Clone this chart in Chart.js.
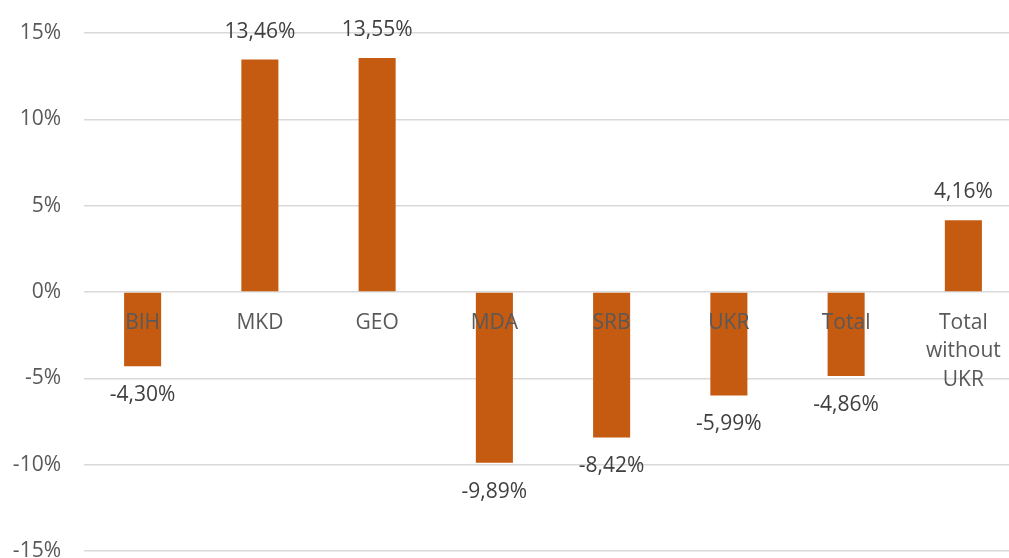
<!DOCTYPE html>
<html>
<head>
<meta charset="utf-8">
<script src="https://cdn.jsdelivr.net/npm/chart.js@4"></script>
<style>
  html, body { margin: 0; padding: 0; background: #fff; overflow: hidden; }
  canvas { display: block; }
</style>
</head>
<body>
<canvas id="growthChart" width="1022" height="575"></canvas>
<script>
// categories and values (percent)
const categories = ['BIH', 'MKD', 'GEO', 'MDA', 'SRB', 'UKR', 'Total', ['Total', 'without', 'UKR']];
const growth = [-4.30, 13.46, 13.55, -9.89, -8.42, -5.99, -4.86, 4.16];
const yTicks = [-15, -10, -5, 0, 5, 10, 15];

const FONT = '"Open Sans", sans-serif';

// category names drawn just under the zero line, on top of the bars
const categoryLabels = {
    id: 'categoryLabels',
    afterDatasetsDraw(chart) {
        const ctx = chart.ctx;
        const x = chart.scales.x;
        const y0 = chart.scales.y.getPixelForValue(0);
        ctx.save();
        ctx.font = '21px ' + FONT;
        ctx.fillStyle = '#595959';
        ctx.textAlign = 'center';
        ctx.textBaseline = 'middle';
        categories.forEach((c, i) => {
            const lines = Array.isArray(c) ? c : [c];
            lines.forEach((line, j) => {
                ctx.fillText(line, x.getPixelForValue(i), y0 + 31 + j * 28.5);
            });
        });
        ctx.restore();
    }
};

// value labels above positive / below negative bars
const valueLabels = {
    id: 'valueLabels',
    afterDatasetsDraw(chart) {
        const ctx = chart.ctx;
        const meta = chart.getDatasetMeta(0);
        ctx.save();
        ctx.font = '21px ' + FONT;
        ctx.fillStyle = '#404040';
        ctx.textAlign = 'center';
        ctx.textBaseline = 'middle';
        meta.data.forEach((bar, i) => {
            const v = growth[i];
            const txt = v.toFixed(2).replace('.', ',') + '%';
            const y = v >= 0 ? bar.y - 28 : bar.y + 29;
            ctx.fillText(txt, bar.x, y);
        });
        ctx.restore();
    }
};

new Chart(document.getElementById('growthChart').getContext('2d'), {
    type: 'bar',
    data: {
        labels: categories,
        datasets: [{
            data: growth,
            backgroundColor: '#C55A11',
            borderWidth: 0,
            barPercentage: 0.316,
            categoryPercentage: 1
        }]
    },
    options: {
        responsive: false,
        maintainAspectRatio: false,
        animation: false,
        layout: { padding: { top: 33, bottom: 24, left: 0, right: 0 } },
        plugins: {
            legend: { display: false },
            tooltip: { enabled: false }
        },
        scales: {
            x: {
                display: false,
                grid: { display: false }
            },
            y: {
                min: -15,
                max: 15,
                afterBuildTicks: (scale) => { scale.ticks = yTicks.map(v => ({ value: v })); },
                afterFit: (scale) => {
                    scale.width = 84;
                    scale.paddingTop = 0;
                    scale.paddingBottom = 0;
                },
                border: { display: false },
                grid: { color: '#d9d9d9', lineWidth: 1.5, drawTicks: false },
                ticks: {
                    padding: 23,
                    color: '#595959',
                    font: { family: FONT, size: 21 },
                    callback: (v) => v + '%'
                }
            }
        }
    },
    plugins: [categoryLabels, valueLabels]
});
</script>
</body>
</html>
